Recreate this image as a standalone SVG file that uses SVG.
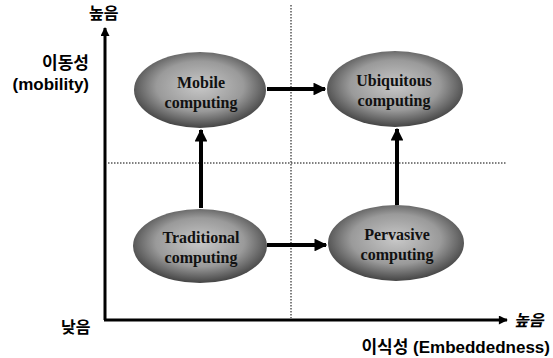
<svg xmlns="http://www.w3.org/2000/svg" width="553" height="358" viewBox="0 0 553 358">
  <style>
    .lbl { font-family: "Liberation Sans", "Noto Sans CJK KR", sans-serif; font-size: 17px; font-weight: bold; fill: #000; }
    .node-text { font-family: "Liberation Serif", serif; font-weight: bold; font-size: 16px; fill: #111; text-anchor: middle; }
    .axis { stroke: #000; stroke-width: 3; fill: none; }
    .guide { stroke: #000; stroke-width: 1; stroke-dasharray: 1.5 1.5; fill: none; }
    .flow { stroke: #000; stroke-width: 4; fill: none; }
    .blob { fill: url(#shade); }
  </style>
  <defs>
    <radialGradient id="shade" cx="50%" cy="45%" r="55%">
      <stop offset="0" stop-color="#c8c8c8"/>
      <stop offset="0.6" stop-color="#9a9a9a"/>
      <stop offset="1" stop-color="#444"/>
    </radialGradient>
    <marker id="head" viewBox="0 0 10 10" refX="9" refY="5" markerWidth="3.2" markerHeight="3.2" orient="auto" markerUnits="strokeWidth">
      <path d="M0 0 L10 5 L0 10 Z" fill="#000"/>
    </marker>
    <marker id="axhead" viewBox="0 0 10 10" refX="9" refY="5" markerWidth="3.5" markerHeight="3" orient="auto" markerUnits="strokeWidth">
      <path d="M0 0 L10 5 L0 10 Z" fill="#000"/>
    </marker>
  </defs>

  <!-- quadrant guides -->
  <g id="guides">
    <line class="guide" x1="291" y1="5" x2="291" y2="318"/>
    <line class="guide" x1="108" y1="163" x2="506" y2="163"/>
  </g>

  <!-- axes -->
  <g id="axes">
    <path class="axis" d="M105 320 L105 28" marker-end="url(#axhead)"/>
    <path class="axis" d="M104 320 L507 320" marker-end="url(#axhead)"/>
    <text class="lbl" x="89" y="19" style="font-size:16px">높음</text>
    <text class="lbl" x="89" y="69" text-anchor="end">이동성</text>
    <text class="lbl" x="89" y="90" text-anchor="end">(mobility)</text>
    <text class="lbl" x="61" y="333" style="font-size:16px">낮음</text>
    <text class="lbl" x="514" y="326" style="font-size:16px;font-style:italic">높음</text>
    <text class="lbl" x="550" y="353" text-anchor="end">이식성 (Embeddedness)</text>
  </g>

  <!-- connectors -->
  <g id="connectors">
    <path class="flow" d="M267 89 L325 89" marker-end="url(#head)"/>
    <path class="flow" d="M267 245 L326 245" marker-end="url(#head)"/>
    <path class="flow" d="M201 208 L201 130" marker-end="url(#head)"/>
    <path class="flow" d="M397 205 L397 129" marker-end="url(#head)"/>
  </g>

  <!-- nodes -->
  <g id="mobile">
    <ellipse class="blob" cx="200" cy="90" rx="66" ry="38"/>
    <text class="node-text" x="201" y="88">Mobile</text>
    <text class="node-text" x="201" y="108">computing</text>
  </g>
  <g id="ubiquitous">
    <ellipse class="blob" cx="395" cy="89" rx="68" ry="38"/>
    <text class="node-text" x="394" y="86">Ubiquitous</text>
    <text class="node-text" x="394" y="106">computing</text>
  </g>
  <g id="traditional">
    <ellipse class="blob" cx="200" cy="246" rx="67" ry="37"/>
    <text class="node-text" x="201" y="243">Traditional</text>
    <text class="node-text" x="201" y="263">computing</text>
  </g>
  <g id="pervasive">
    <ellipse class="blob" cx="396" cy="243" rx="68" ry="38"/>
    <text class="node-text" x="397" y="240">Pervasive</text>
    <text class="node-text" x="397" y="260">computing</text>
  </g>
</svg>
